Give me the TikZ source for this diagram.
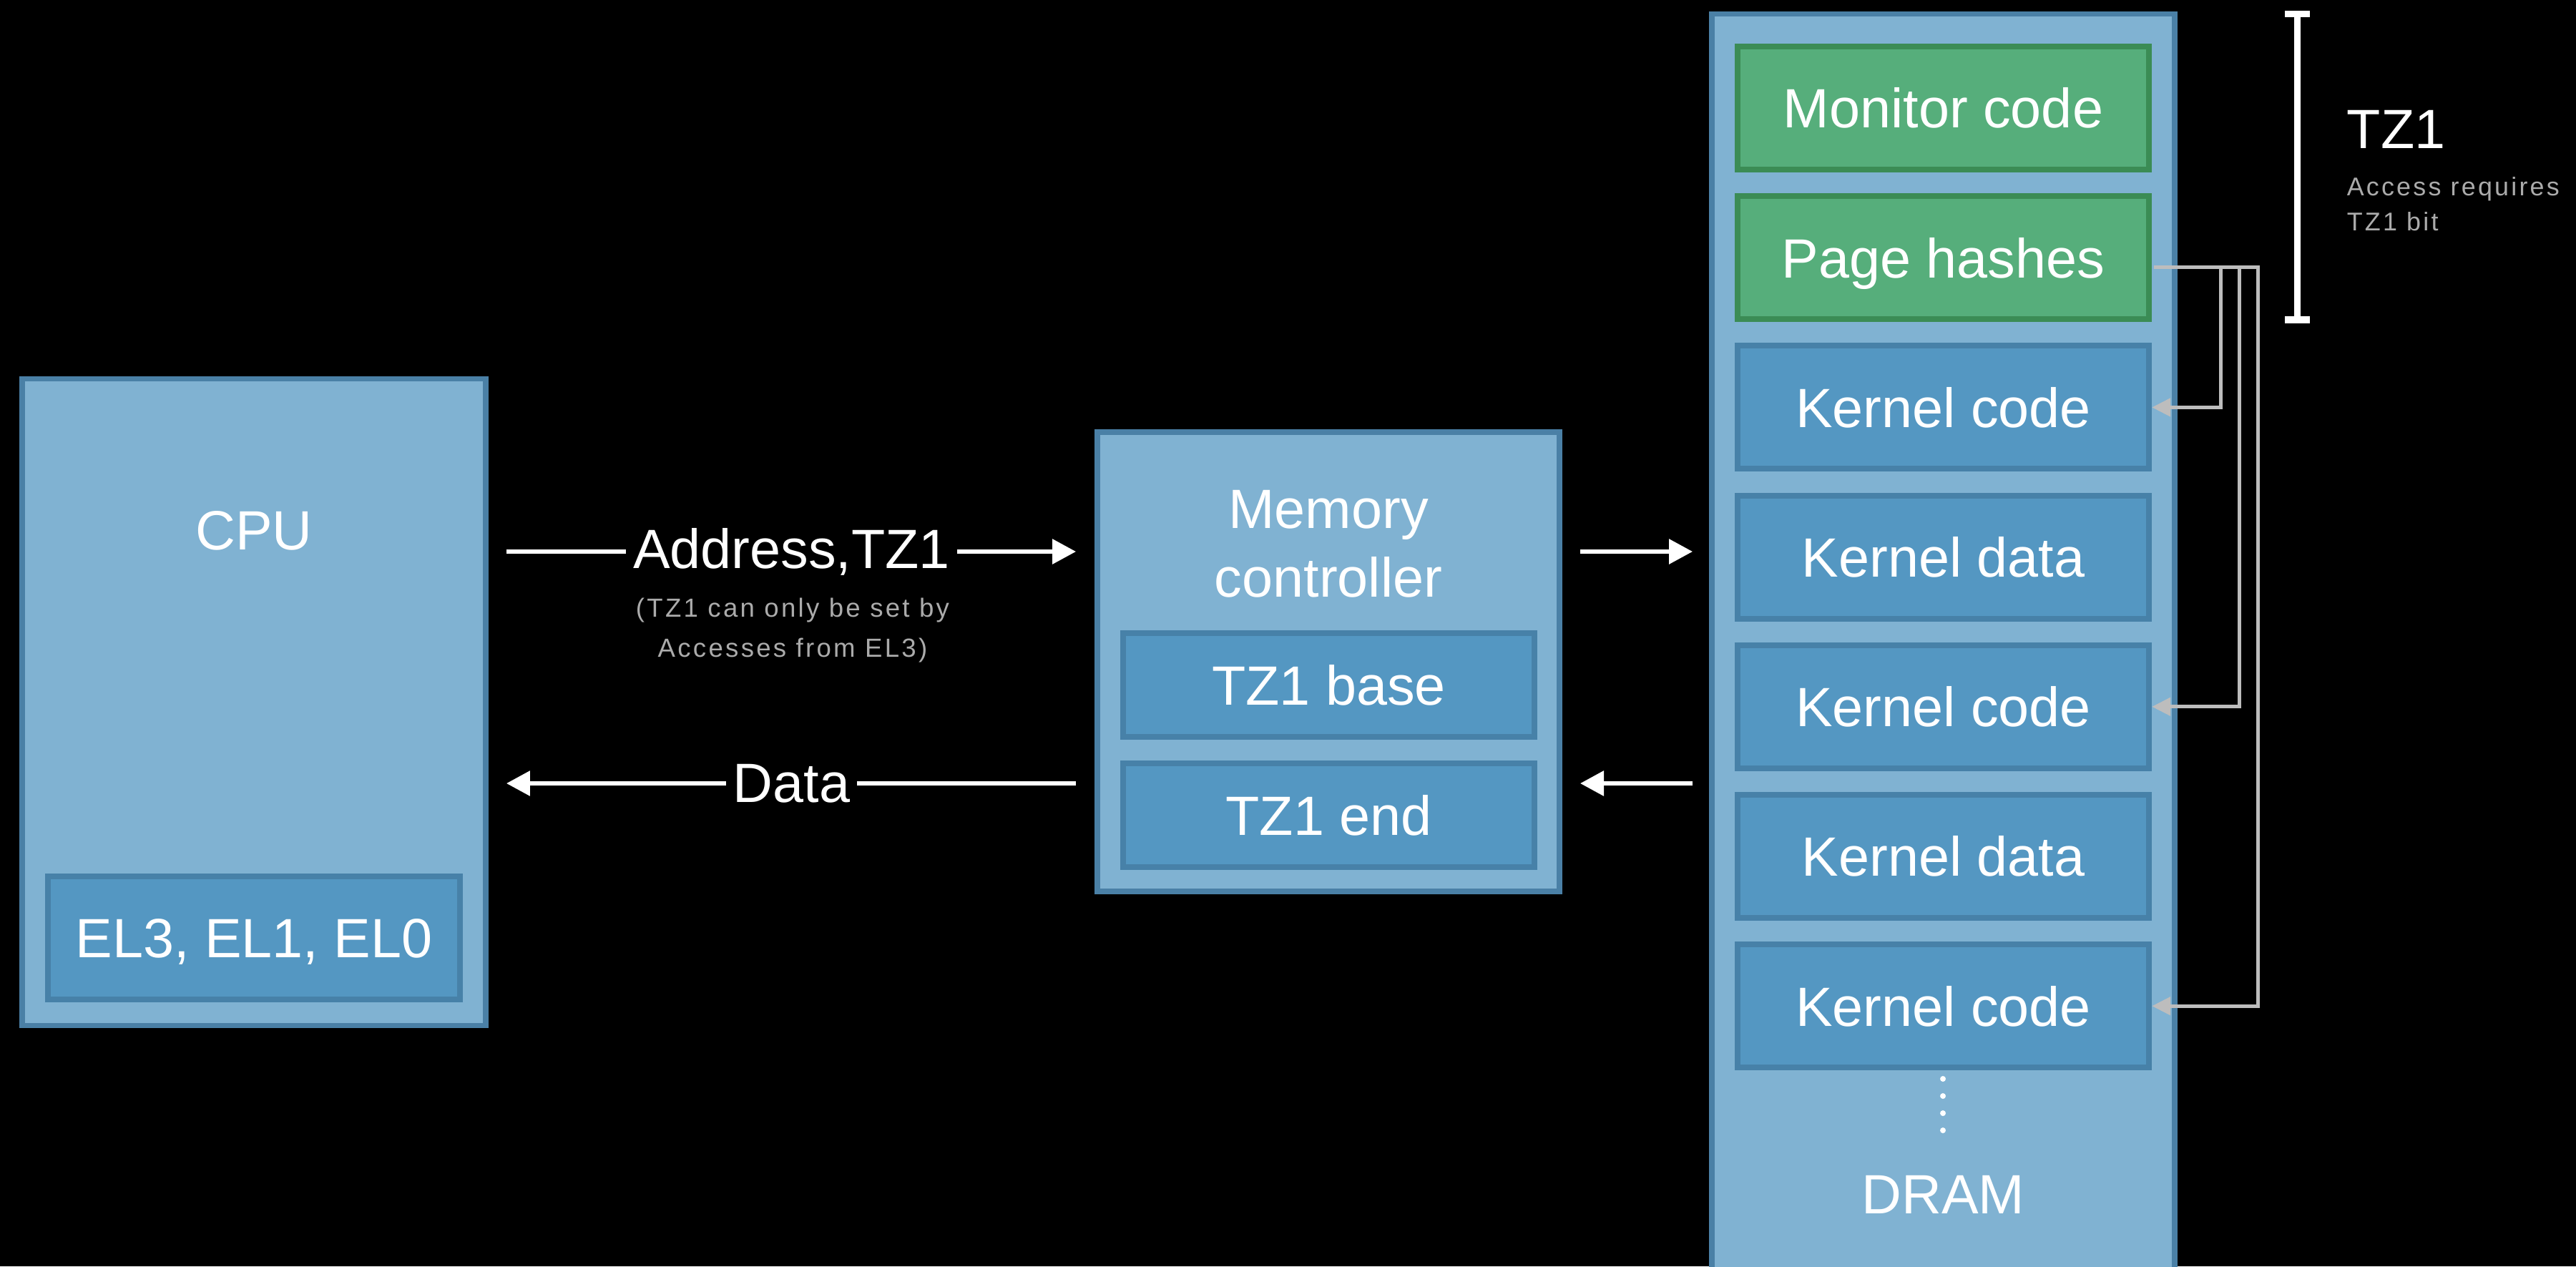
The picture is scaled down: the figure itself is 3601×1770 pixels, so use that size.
\documentclass[tikz,border=0pt]{standalone}
\usepackage{fontspec}
\setmainfont{Liberation Sans}
\newfontfamily\notefont[LetterSpace=9]{Liberation Sans}
\usetikzlibrary{positioning,arrows.meta,calc}
\definecolor{unitfill}{HTML}{80B2D2}
\definecolor{unitline}{HTML}{4A80A6}
\definecolor{regfill}{HTML}{5497C2}
\definecolor{regline}{HTML}{4781A8}
\definecolor{tzfill}{HTML}{56AE7B}
\definecolor{tzline}{HTML}{3B8C55}
\definecolor{notegray}{HTML}{ABABAB}
\definecolor{linkgray}{HTML}{BDBDBD}

\begin{document}
\begin{tikzpicture}[x=0.01cm, y=-0.01cm,
  unit/.style={draw=unitline, fill=unitfill, line width=0.075cm, inner sep=0pt},
  reg/.style={draw=regline, fill=regfill, line width=0.08cm, inner sep=0pt,
              minimum width=5.75cm, text=white, font=\fontsize{22}{26}\selectfont,
              text height=15.9pt, text depth=0pt},
  tzreg/.style={reg, draw=tzline, fill=tzfill},
  lbl/.style={text=white, font=\fontsize{22}{27.3}\selectfont, inner sep=0pt, align=center},
  note/.style={text=notegray, inner sep=0pt, align=center},
  warr/.style={draw=white, line width=0.06cm, -{Triangle[length=0.33cm, width=0.34cm]}},
  garr/.style={draw=linkgray, line width=0.05cm, -{Triangle[length=0.26cm, width=0.25cm]}},
  bus/.style={fill=black, text=white, font=\fontsize{22}{26}\selectfont, inner sep=0.1cm}]
\useasboundingbox (0,0) rectangle (3601,1770);
\fill[black] (0,0) rectangle (3601,1770);
\clip (0,0) rectangle (3601,1770);
% CPU
\node[unit, minimum width=6.48cm, minimum height=9.03cm] (cpu) at (355,981.5) {};
\node[lbl, anchor=base] (cpulbl) at (355,768) {CPU};
\node[reg, minimum width=5.76cm, minimum height=1.72cm] (el) at (355,1311) {EL3, EL1, EL0};
% memory controller
\node[unit, minimum width=6.46cm, minimum height=6.42cm] (mc) at (1857,925) {};
\node[lbl, anchor=base] (mclbl) at (1857,834) {Memory\\controller};
\node[reg, minimum height=1.45cm] (tzbase) at (1857.5,957.5) {TZ1 base};
\node[reg, minimum height=1.45cm] (tzend) at (1857.5,1139.5) {TZ1 end};
% DRAM
\node[unit, minimum width=6.47cm, minimum height=17.8cm] (dram) at (2716.5,910) {};
\foreach \nm/\txt/\st [count=\i from 0] in {mon/Monitor code/tzreg, ph/Page hashes/tzreg,
    kc1/Kernel code/reg, kd1/Kernel data/reg, kc2/Kernel code/reg, kd2/Kernel data/reg,
    kc3/Kernel code/reg}
  \node[\st, minimum height=1.72cm] (\nm) at (2716.5,{151+209.2*\i}) {\txt};
\foreach \k in {0,...,3}
  \fill[white] (2716,{1508+24*\k}) circle (4);
\node[lbl, anchor=base] (dramlbl) at (2716.5,1696) {DRAM};
% buses
\coordinate (ya) at (0,771);
\coordinate (yd) at (0,1095);
\draw[warr, shorten <=0.25cm, shorten >=0.26cm] (cpu.east |- ya) --
  node[bus] (addr) {Address,TZ1} (mc.west |- ya);
\node[note, anchor=base, font=\notefont\fontsize{10.4}{15.9}\selectfont] (addrnote)
  at (1108,918) {(TZ1 can only be set by\\Accesses from EL3)};
\draw[warr, shorten <=0.26cm, shorten >=0.25cm] (mc.west |- yd) --
  node[bus] (data) {Data} (cpu.east |- yd);
\draw[warr, shorten <=0.25cm, shorten >=0.23cm] (mc.east |- ya) -- (dram.west |- ya);
\draw[warr, shorten <=0.23cm, shorten >=0.25cm] (dram.west |- yd) -- (mc.east |- yd);
% hash links
\coordinate (tap) at ($(ph.east)+(3,13)$);
\draw[garr] (tap) -| ($(kc1.east)+(96,0)$) -- (kc1.east);
\draw[garr] (tap) -| ($(kc2.east)+(122,0)$) -- (kc2.east);
\draw[garr] (tap) -| ($(kc3.east)+(148,0)$) -- (kc3.east);
% TZ1 range
\draw[white, line width=0.09cm] (3194,20) -- (3229,20) (3211,20) -- (3211,447)
  (3194,447) -- (3229,447);
\node[lbl, anchor=base west] (tzlbl) at (3280,208) {TZ1};
\node[note, anchor=base west, align=left, font=\notefont\fontsize{10.2}{14.2}\selectfont]
  (tznote) at (3280,323) {Access requires\\TZ1 bit};
\end{tikzpicture}
\end{document}
